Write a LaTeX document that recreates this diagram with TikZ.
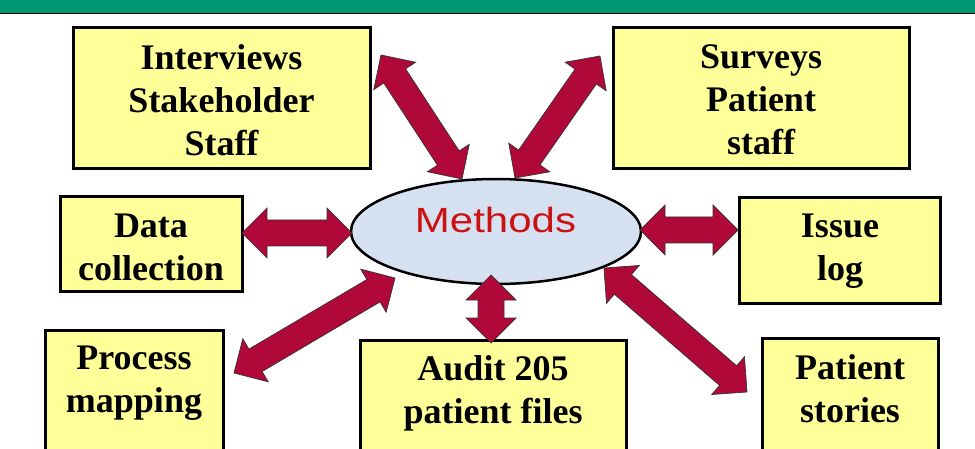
\documentclass[tikz,border=0pt]{standalone}
\usepackage{fontspec}
\setmainfont{Liberation Serif}
\newfontfamily\msans{Liberation Sans}
\usetikzlibrary{shapes.geometric,calc}
\definecolor{topgreen}{RGB}{0,152,115}
\definecolor{boxyellow}{RGB}{255,255,153}
\definecolor{ellblue}{RGB}{213,225,240}
\definecolor{arrred}{RGB}{176,8,56}
\definecolor{methred}{RGB}{204,17,17}
\tikzset{
 box/.style={draw=black, line width=3pt, fill=boxyellow, rectangle, inner sep=0pt},
 lbl/.style={font=\fontsize{36}{43}\selectfont\bfseries, align=center, inner sep=0pt},
 barrow/.style={fill=arrred, draw=black!80, line width=0.7pt, line join=miter},
 hub/.style={ellipse, draw=black, line width=2.5pt, fill=ellblue, inner sep=0pt},
}
\newcommand\blockarr[3]{%
 \coordinate (#1p) at ($(#2)!25pt!(#3)$);
 \coordinate (#1q) at ($(#3)!25pt!(#2)$);
 \draw[barrow] (#2) -- ($(#1p)!25pt!90:(#3)$) -- ($(#1p)!13pt!90:(#3)$) -- ($(#1q)!13pt!-90:(#2)$) -- ($(#1q)!25pt!-90:(#2)$) -- (#3) -- ($(#1q)!25pt!90:(#2)$) -- ($(#1q)!13pt!90:(#2)$) -- ($(#1p)!13pt!-90:(#3)$) -- ($(#1p)!25pt!-90:(#3)$) -- cycle;}
\begin{document}
\begin{tikzpicture}[x=1pt,y=-1pt]
\useasboundingbox (0,0) rectangle (975,449);
\clip (0,0) rectangle (975,449);
\fill[topgreen] (0,0) rectangle (975,13);
\draw[line width=1pt] (0,13.5) -- (975,13.5);
% boxes
\node[box, minimum width=297, minimum height=141] (int) at (221.5,98.5) {};
\node[box, minimum width=296, minimum height=141] (sur) at (761,98.5) {};
\node[box, minimum width=182, minimum height=95] (dat) at (151,244.5) {};
\node[box, minimum width=201, minimum height=105] (iss) at (839.5,250.5) {};
\node[box, minimum width=178, minimum height=150] (pro) at (134,405) {};
\node[box, minimum width=266, minimum height=140] (aud) at (493,410) {};
\node[box, minimum width=176, minimum height=142] (pat) at (850,409) {};
% labels (base = last line baseline)
\node[lbl, anchor=base] (intT) at (221.5,156) {Interviews\\Stakeholder\\Staff};
\node[lbl, anchor=base] (surT) at (761,155) {Surveys\\Patient\\staff};
\node[lbl, anchor=base] (datT) at (151,280) {Data\\collection};
\node[lbl, anchor=base] (issT) at (840,280) {Issue\\log};
\node[lbl, anchor=base] (proT) at (134,412) {Process\\mapping};
\node[lbl, anchor=base] (audT) at (493,423) {Audit 205\\patient files};
\node[lbl, anchor=base] (patT) at (850,422) {Patient\\stories};
% hub
\node[hub, minimum width=290, minimum height=105] (m) at (496,231.5) {};
\node[anchor=base, inner sep=0pt, text=methred, font=\msans\fontsize{35}{40}\selectfont] (mT) at (495.5,233) {\scalebox{1.2}[1]{Methods}};
% arrow tips
\coordinate (a1) at (381,55);  \coordinate (b1) at (462,179);
\coordinate (a2) at (600,56);  \coordinate (b2) at (515,178);
\coordinate (a3) at (242,233); \coordinate (b3) at (352,233);
\coordinate (a4) at (640,230); \coordinate (b4) at (738,230);
\coordinate (a5) at (491,275); \coordinate (b5) at (491,343);
\coordinate (a6) at (234,373); \coordinate (b6) at (395,278);
\coordinate (a7) at (604,268); \coordinate (b7) at (747,392);
\blockarr{r1}{a1}{b1}
\blockarr{r2}{a2}{b2}
\blockarr{r3}{a3}{b3}
\blockarr{r4}{a4}{b4}
\blockarr{r5}{a5}{b5}
\blockarr{r6}{a6}{b6}
\blockarr{r7}{a7}{b7}
\end{tikzpicture}
\end{document}
